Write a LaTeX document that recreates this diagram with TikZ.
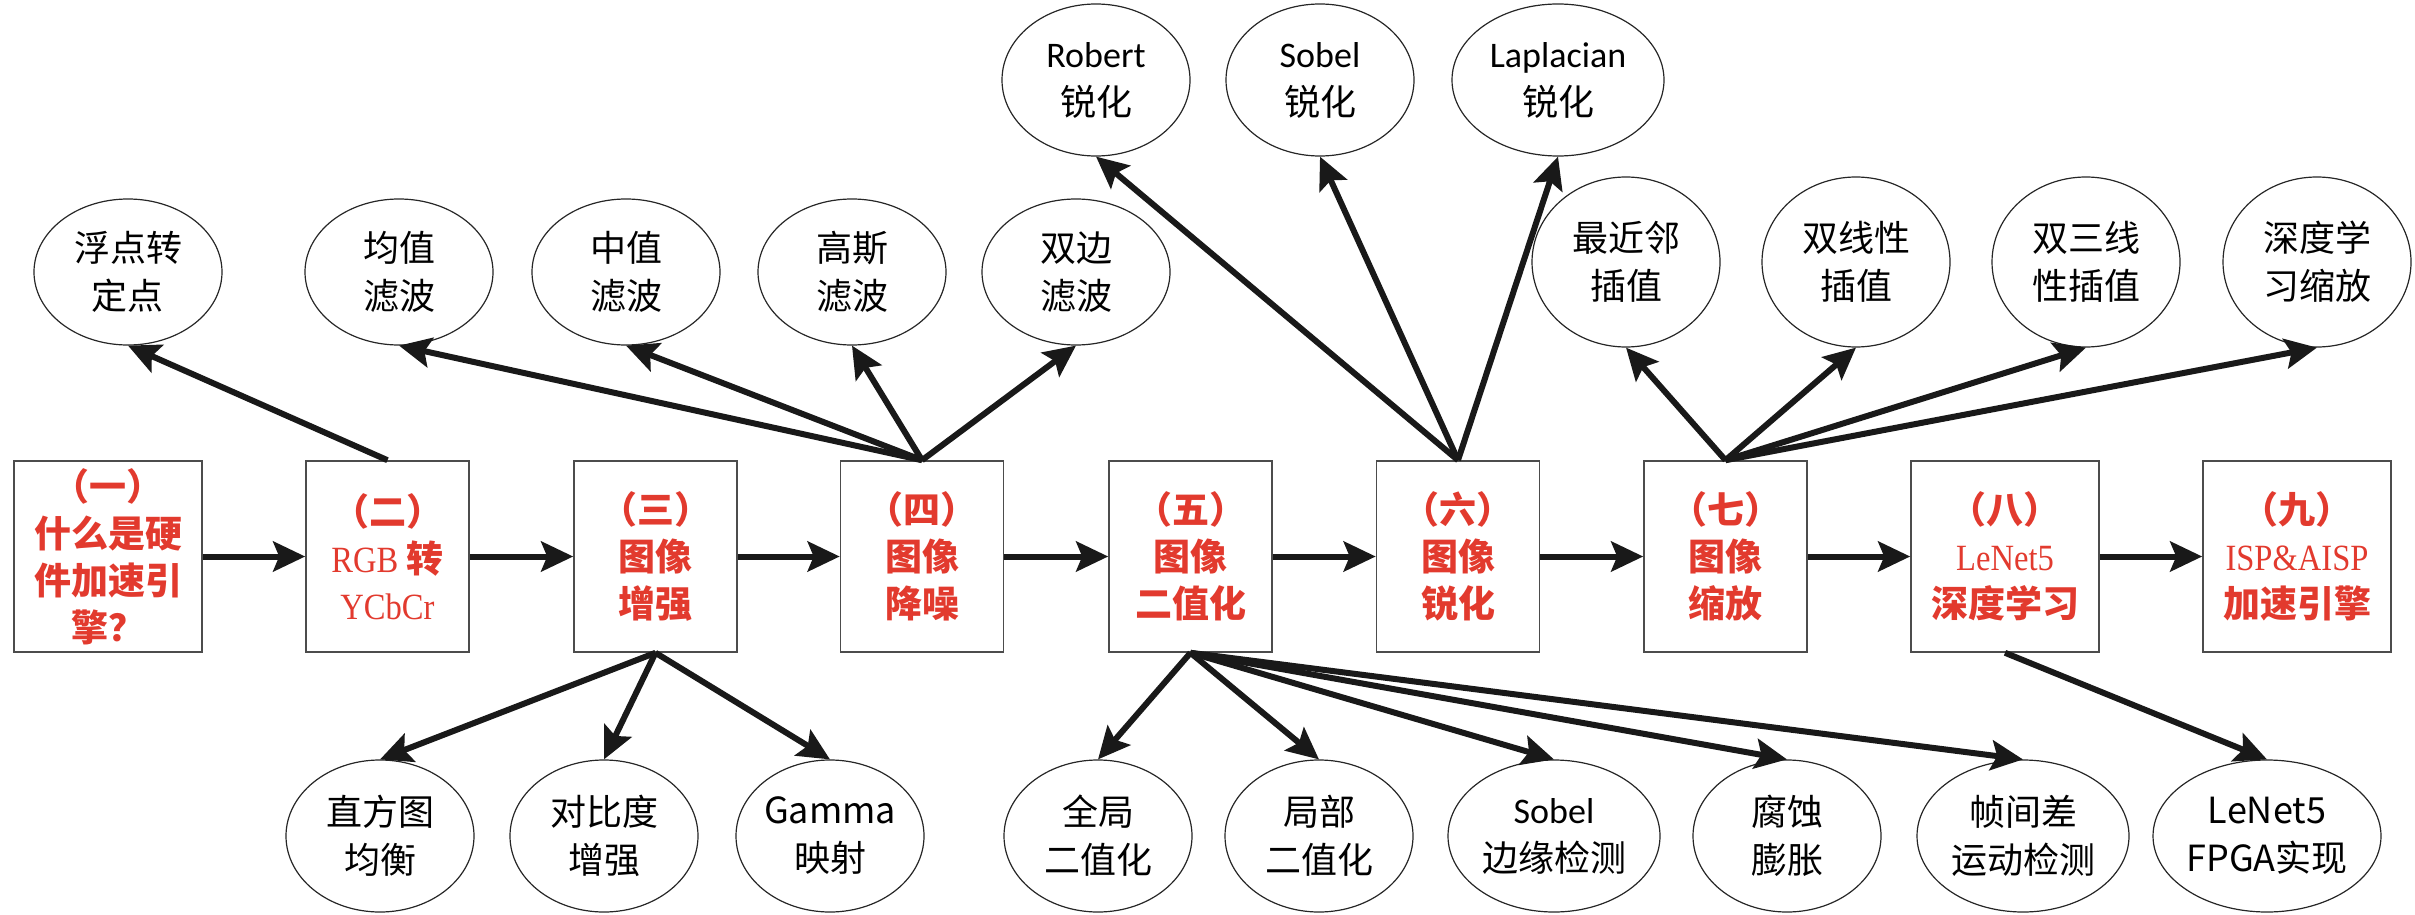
\documentclass[tikz,border=0pt]{standalone}
\usepackage{fontspec}
\setmainfont{Liberation Serif}
\newfontfamily\cjk{Noto Sans CJK SC}
\newfontfamily\song[FakeStretch=0.88]{Liberation Serif}
\newfontfamily\cali{Carlito}
\usepackage{tikz}
\usetikzlibrary{arrows.meta}
\usetikzlibrary{shapes.geometric}
\definecolor{boxred}{HTML}{E23A2E}

\begin{document}
\begin{tikzpicture}[x=0.5pt,y=-0.5pt]
  \tikzset{stage/.style = {shape=rectangle,draw=black!70,line width=0.8pt,minimum width=81.5pt,minimum height=95.5pt,inner sep=0pt,align=center,text=boxred,font=\cjk\bfseries\fontsize{18.5}{23.5}\selectfont}}
  \tikzset{wstage/.style = {stage,minimum width=94pt}}
  \tikzset{topic/.style = {shape=ellipse,draw=black!85,line width=0.6pt,inner sep=0pt,minimum width=94pt,minimum height=73pt,align=center,font=\cjk\fontsize{18}{24}\selectfont}}
  \tikzset{edge/.style = {-tipA,line width=3pt,black!90}}
  \tikzset{%
  tipA/.tip={Stealth[length=16pt,width=15pt,inset=3pt]},
}
  \useasboundingbox (0,0) rectangle (2415,915);

	\node[wstage] (A) at (108,556.5) {（一）\\什么是硬\\件加速引\\擎？};
	\node[stage] (B) at (387.5,556.5) {（二）\\{\song\mdseries RGB} 转\\{\song\mdseries YCbCr}};
	\node[stage] (C) at (655.5,556.5) {（三）\\图像\\增强};
	\node[stage] (D) at (922,556.5) {（四）\\图像\\降噪};
	\node[stage] (E) at (1190.5,556.5) {（五）\\图像\\二值化};
	\node[stage] (F) at (1458,556.5) {（六）\\图像\\锐化};
	\node[stage] (G) at (1725.5,556.5) {（七）\\图像\\缩放};
	\node[wstage] (H) at (2005,556.5) {（八）\\{\song\mdseries LeNet5}\\深度学习};
	\node[wstage] (I) at (2297,556.5) {（九）\\{\song\mdseries ISP\&AISP}\\加速引擎};

	% upper row
	\node[topic] (fp) at (128,272) {浮点转\\定点};
	\node[topic] (mean) at (399,272) {均值\\滤波};
	\node[topic] (med) at (626,272) {中值\\滤波};
	\node[topic] (gauss) at (852,272) {高斯\\滤波};
	\node[topic] (bil) at (1076,272) {双边\\滤波};
	\node[topic,minimum height=76pt] (rob) at (1096,80) {{\cali Robert}\\锐化};
	\node[topic,minimum height=76pt] (sob) at (1320,80) {{\cali Sobel}\\锐化};
	\node[topic,minimum height=76pt,minimum width=106pt] (lap) at (1558,80) {{\cali Laplacian}\\锐化};
	\node[topic,minimum height=85pt] (nn) at (1626,262) {最近邻\\插值};
	\node[topic,minimum height=85pt] (bl) at (1856,262) {双线性\\插值};
	\node[topic,minimum height=85pt] (bc) at (2086,262) {双三线\\性插值};
	\node[topic,minimum height=85pt] (dl) at (2317,262) {深度学\\习缩放};

	% lower row
	\node[topic,minimum height=76pt] (hist) at (380,836) {直方图\\均衡};
	\node[topic,minimum height=76pt] (con) at (604,836) {对比度\\增强};
	\node[topic,minimum height=76pt] (gam) at (830,836) {Gamma\\映射};
	\node[topic,minimum height=76pt] (glob) at (1098,836) {全局\\二值化};
	\node[topic,minimum height=76pt] (loc) at (1319,836) {局部\\二值化};
	\node[topic,minimum height=76pt,minimum width=106pt] (sbe) at (1554,836) {{\cali Sobel}\\边缘检测};
	\node[topic,minimum height=76pt] (ero) at (1787,836) {腐蚀\\膨胀};
	\node[topic,minimum height=76pt,minimum width=106pt] (frm) at (2023,836) {帧间差\\运动检测};
	\node[topic,minimum height=76pt,minimum width=103pt] (fpga) at (2267,836) {LeNet5\\FPGA实现};

    \foreach \from/\to in {A/B, B/C, C/D, D/E, E/F, F/G, G/H, H/I}
    \path[edge](\from) edge (\to);

    \path[edge](B.north) edge (fp.south);
    \foreach \to in {mean, med, gauss, bil}
    \path[edge](D.north) edge (\to.south);
    \foreach \to in {rob, sob, lap}
    \path[edge](F.north) edge (\to.south);
    \foreach \to in {nn, bl, bc, dl}
    \path[edge](G.north) edge (\to.south);
    \foreach \to in {hist, con, gam}
    \path[edge](C.south) edge (\to.north);
    \foreach \to in {glob, loc, sbe, ero, frm}
    \path[edge](E.south) edge (\to.north);
    \path[edge](H.south) edge (fpga.north);

\end{tikzpicture}
\end{document}
